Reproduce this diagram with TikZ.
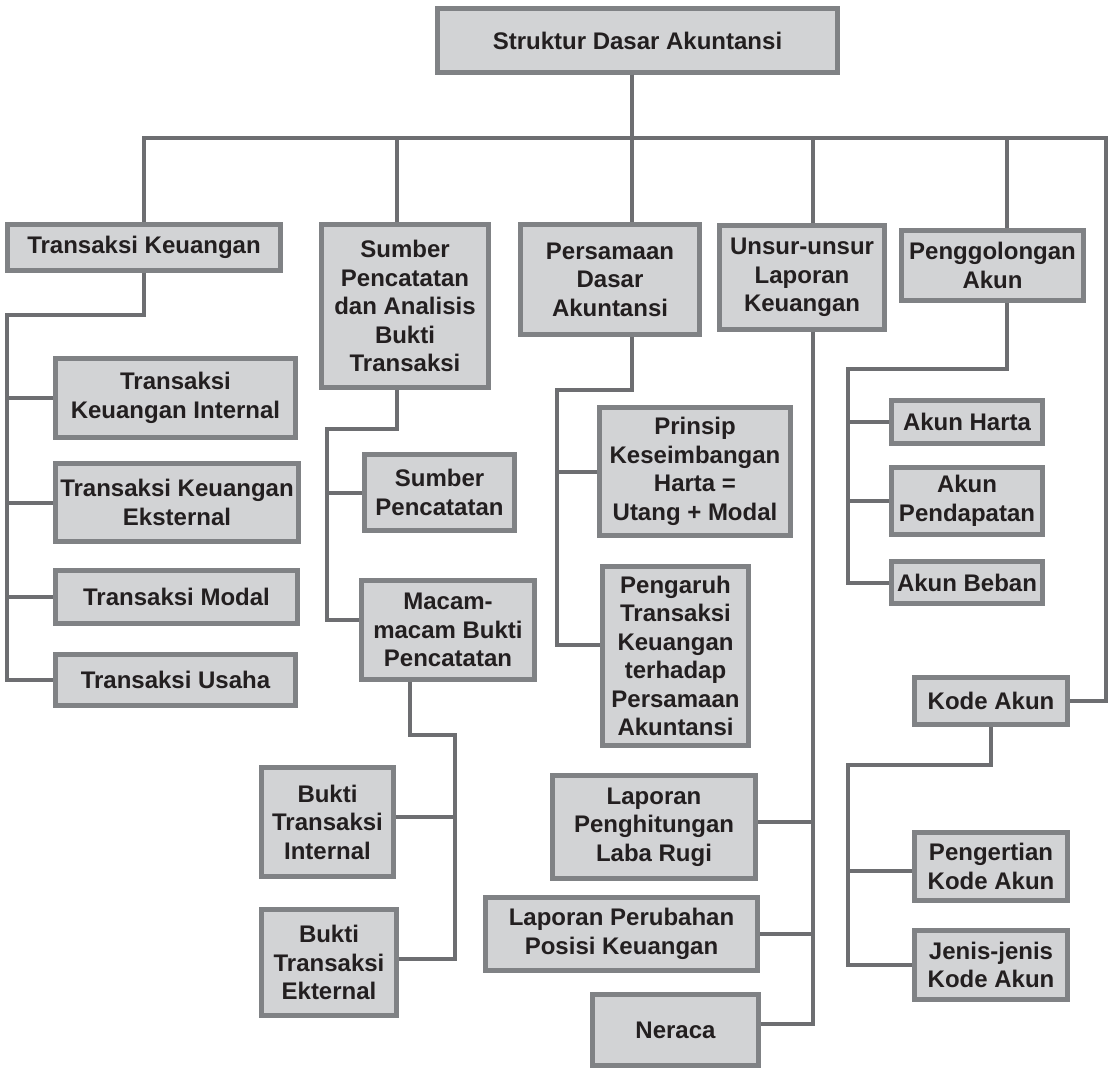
\documentclass[tikz,border=0pt]{standalone}
\usepackage{fontspec}
\setmainfont{Liberation Sans}
\usepackage{tikz}
\usetikzlibrary{positioning,calc}

\definecolor{boxgray}{RGB}{210,211,213}
\definecolor{bordergray}{RGB}{128,130,133}
\definecolor{linegray}{RGB}{109,110,113}
\definecolor{textdark}{RGB}{35,31,32}

\begin{document}
\begin{tikzpicture}[x=1pt,y=-1pt,
    box/.style={draw=bordergray, fill=boxgray, line width=4.5pt, text=textdark, font=\bfseries\fontsize{24}{28.5}\selectfont, align=center, inner sep=1pt},
    link/.style={draw=linegray, line width=4pt}
    ]
\useasboundingbox (0,0) rectangle (1110,1069);

    \node[box,minimum width=400,minimum height=64] (root) at (637.5,40.5) {Struktur Dasar Akuntansi};
    % first level
    \node[box,minimum width=273,minimum height=46] (tk) at (144,247.5) {Transaksi Keuangan};
    \node[box,minimum width=167,minimum height=163] (sp) at (405,306) {Sumber\\Pencatatan\\dan Analisis\\Bukti\\Transaksi};
    \node[box,minimum width=179,minimum height=110] (pda) at (610,279.5) {Persamaan\\Dasar\\Akuntansi};
    \node[box,minimum width=165,minimum height=104] (ul) at (802,277.5) {Unsur-unsur\\Laporan\\Keuangan};
    \node[box,minimum width=182,minimum height=70] (pa) at (992.5,265.5) {Penggolongan\\Akun};
    \node[box,minimum width=153,minimum height=47] (kode) at (991,701) {Kode Akun};
    % transaksi keuangan
    \node[box,minimum width=240,minimum height=79] (tki) at (175.5,398) {Transaksi\\Keuangan Internal};
    \node[box,minimum width=243,minimum height=78] (tke) at (177,502.5) {Transaksi Keuangan\\Eksternal};
    \node[box,minimum width=242,minimum height=53] (tm) at (176.5,597) {Transaksi Modal};
    \node[box,minimum width=240,minimum height=51] (tu) at (175.5,680) {Transaksi Usaha};
    % sumber pencatatan
    \node[box,minimum width=150,minimum height=76] (sumpc) at (439.5,492.5) {Sumber\\Pencatatan};
    \node[box,minimum width=173,minimum height=99] (macam) at (448,630) {Macam-\\macam Bukti\\Pencatatan};
    \node[box,minimum width=132,minimum height=109] (bti) at (327.5,822) {Bukti\\Transaksi\\Internal};
    \node[box,minimum width=135,minimum height=106] (bte) at (329,962.5) {Bukti\\Transaksi\\Ekternal};
    % persamaan dasar
    \node[box,minimum width=191,minimum height=128] (prinsip) at (695,471.5) {Prinsip\\Keseimbangan\\Harta =\\Utang + Modal};
    \node[box,minimum width=146,minimum height=179] (pengaruh) at (675.5,656) {Pengaruh\\Transaksi\\Keuangan\\terhadap\\Persamaan\\Akuntansi};
    % unsur laporan
    \node[box,minimum width=203,minimum height=103] (lplr) at (654,827) {Laporan\\Penghitungan\\Laba Rugi};
    \node[box,minimum width=272,minimum height=73] (lppk) at (621.5,934) {Laporan Perubahan\\Posisi Keuangan};
    \node[box,minimum width=166,minimum height=71] (neraca) at (675.5,1030) {Neraca};
    % penggolongan akun
    \node[box,minimum width=151,minimum height=43] (harta) at (967,422) {Akun Harta};
    \node[box,minimum width=151,minimum height=67] (pendapatan) at (967,501) {Akun\\Pendapatan};
    \node[box,minimum width=151,minimum height=42] (beban) at (967,582.5) {Akun Beban};
    % kode akun
    \node[box,minimum width=153,minimum height=68] (pengertian) at (991,866.5) {Pengertian\\Kode Akun};
    \node[box,minimum width=153,minimum height=69] (jenis) at (991,965) {Jenis-jenis\\Kode Akun};

    \coordinate (busR) at (1106,138);
    \coordinate (tkspine) at (7,315);
    \coordinate (spspine) at (327,429);
    \coordinate (mcspine) at (455,735);
    \coordinate (pdaspine) at (557,390);
    \coordinate (paspine) at (848,369);
    \coordinate (kaspine) at (848,765);

    \draw[link] ([xshift=-5.5pt]root.south) -- ++(0,63) -| (tk.north);
    \draw[link] ([xshift=-5.5pt]root.south) -- ++(0,63) -| ([xshift=-8pt]sp.north);
    \draw[link] ([xshift=-5.5pt]root.south) -- ([xshift=22pt]pda.north);
    \draw[link] ([xshift=-5.5pt]root.south) -- ++(0,63) -| ([xshift=11pt]ul.north);
    \draw[link] ([xshift=-5.5pt]root.south) -- ++(0,63) -| ([xshift=14.5pt]pa.north);
    \draw[link] ([xshift=-5.5pt]root.south) |- (busR) |- (kode.east);

    \draw[link] (tk.south) |- (tkspine) |- (tki.west);
    \draw[link] (tkspine) |- (tke.west);
    \draw[link] (tkspine) |- (tm.west);
    \draw[link] (tkspine) |- (tu.west);

    \draw[link] ([xshift=-8pt]sp.south) |- (spspine) |- (sumpc.west);
    \draw[link] (spspine) |- ([yshift=10pt]macam.west);
    \draw[link] ([xshift=-38pt]macam.south) |- (mcspine) |- ([yshift=5pt]bti.east);
    \draw[link] (mcspine) |- ([yshift=4pt]bte.east);

    \draw[link] ([xshift=22pt]pda.south) |- (pdaspine) |- (prinsip.west);
    \draw[link] (pdaspine) |- ([yshift=11pt]pengaruh.west);

    \draw[link] ([xshift=11pt]ul.south) |- ([yshift=5pt]lplr.east);
    \draw[link] ([xshift=11pt]ul.south) |- (lppk.east);
    \draw[link] ([xshift=11pt]ul.south) |- ([yshift=6pt]neraca.east);

    \draw[link] ([xshift=14.5pt]pa.south) |- (paspine) |- (harta.west);
    \draw[link] (paspine) |- (pendapatan.west);
    \draw[link] (paspine) |- (beban.west);

    \draw[link] (kode.south) |- (kaspine) |- ([yshift=-4pt]pengertian.west);
    \draw[link] (kaspine) |- (jenis.west);
\end{tikzpicture}
\end{document}
